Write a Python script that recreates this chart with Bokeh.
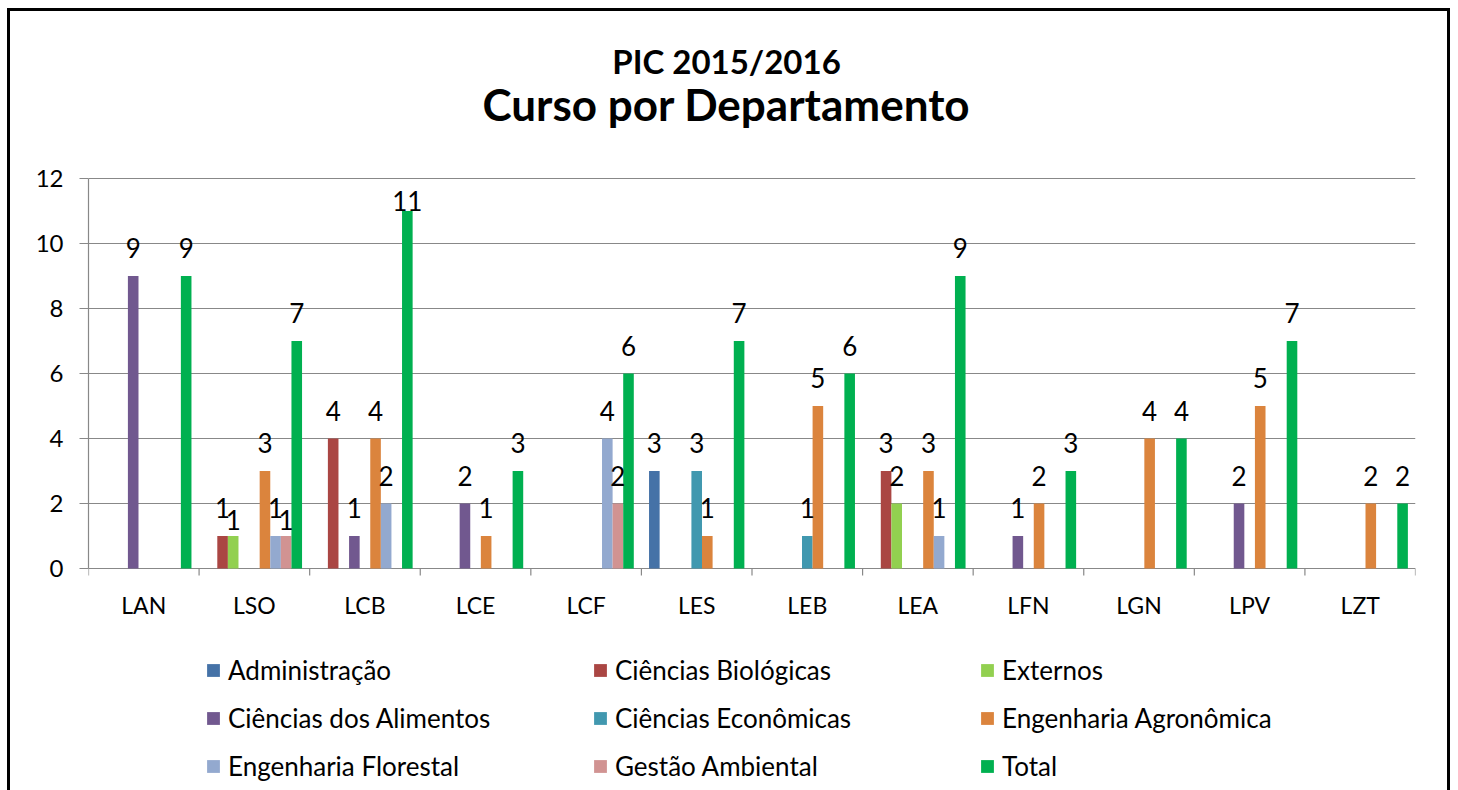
from bokeh.plotting import figure
from bokeh.models import (ColumnDataSource, FixedTicker, Legend, LegendItem, Label,
                          LabelSet, Range1d)
from bokeh.transform import dodge
from bokeh.core.properties import value
from bokeh.embed import file_html
from bokeh.resources import INLINE
import numpy as np

# ---------------- data ----------------
departments = ["LAN", "LSO", "LCB", "LCE", "LCF", "LES", "LEB", "LEA", "LFN", "LGN", "LPV", "LZT"]
series_names = ["Administração", "Ciências Biológicas", "Externos",
                "Ciências dos Alimentos", "Ciências Econômicas", "Engenharia Agronômica",
                "Engenharia Florestal", "Gestão Ambiental", "Total"]
administracao         = [0, 0, 0, 0, 0, 3, 0, 0, 0, 0, 0, 0]
ciencias_biologicas   = [0, 1, 4, 0, 0, 0, 0, 3, 0, 0, 0, 0]
externos              = [0, 1, 0, 0, 0, 0, 0, 2, 0, 0, 0, 0]
ciencias_alimentos    = [9, 0, 1, 2, 0, 0, 0, 0, 1, 0, 2, 0]
ciencias_economicas   = [0, 0, 0, 0, 0, 3, 1, 0, 0, 0, 0, 0]
engenharia_agronomica = [0, 3, 4, 1, 0, 1, 5, 3, 2, 4, 5, 2]
engenharia_florestal  = [0, 1, 2, 0, 4, 0, 0, 1, 0, 0, 0, 0]
gestao_ambiental      = [0, 1, 0, 0, 2, 0, 0, 0, 0, 0, 0, 0]
total                 = [9, 7, 11, 3, 6, 7, 6, 9, 3, 4, 7, 2]
y_ticks = [0, 2, 4, 6, 8, 10, 12]
title_line1 = "PIC 2015/2016"
title_line2 = "Curso por Departamento"

series_values = [administracao, ciencias_biologicas, externos, ciencias_alimentos,
                 ciencias_economicas, engenharia_agronomica, engenharia_florestal,
                 gestao_ambiental, total]
colors = ["#4572A7", "#AA4643", "#92D050", "#71588F", "#4198AF",
          "#DB843D", "#93A9CF", "#D19392", "#00B050"]

# ---------------- layout / style ----------------
FONT = "Lato"
GRAY = "#888888"
W, H = 1458, 790
LEFT, RIGHT = 88, 43              # side borders of the plotting frame
AXIS_TOP, AXIS_BOTTOM = 178, 568  # pixel rows of y=12 and y=0
Y_MAX = 12
PX = (AXIS_BOTTOM - AXIS_TOP) / Y_MAX   # pixels per unit
BAR_W = 0.0958                    # fraction of one category
LABEL_OFF = 28                    # px between bar top and label centre
LABEL_DROP = 12                   # px a colliding label is lowered

border_css = ("linear-gradient(#000,#000) 7px 8px / 3px 800px no-repeat, "
              "linear-gradient(#000,#000) 1447px 8px / 3px 800px no-repeat, "
              "linear-gradient(#000,#000) 7px 8px / 1443px 3px no-repeat, #fff")

# the frame spans the full height so that titles and legend can live inside it
y_lo = -(H - AXIS_BOTTOM) / PX
y_hi = Y_MAX + AXIS_TOP / PX

p = figure(width=W, height=H, output_backend="svg", toolbar_location=None, title=None,
           x_range=Range1d(0, len(departments)), y_range=Range1d(y_lo, y_hi),
           x_axis_location=None,
           min_border_left=LEFT, min_border_right=RIGHT, min_border_top=0, min_border_bottom=0,
           background_fill_color=None, border_fill_color=None)
p.styles = {"background": border_css}
p.outline_line_color = None
p.xgrid.visible = False
p.ygrid.ticker = FixedTicker(ticks=y_ticks)
p.ygrid.grid_line_color = GRAY
p.ygrid.grid_line_width = 1.2

# y axis
p.yaxis.ticker = FixedTicker(ticks=y_ticks)
p.yaxis.bounds = (0, Y_MAX)
p.yaxis.axis_line_color = GRAY
p.yaxis.axis_line_width = 1.2
p.yaxis.major_tick_line_color = GRAY
p.yaxis.major_tick_line_width = 1.2
p.yaxis.major_tick_out = 9
p.yaxis.major_tick_in = 0
p.yaxis.minor_tick_line_color = None
p.yaxis.major_label_standoff = 16
p.yaxis.major_label_text_font = FONT
p.yaxis.major_label_text_font_size = "24px"
p.yaxis.major_label_text_color = "black"

# x axis: category labels at centres, ticks at category boundaries
centres = [i + 0.5 for i in range(len(departments))]
bounds = list(range(len(departments) + 1))
p.segment(x0=bounds, y0=[0] * len(bounds), x1=bounds, y1=[-7 / PX] * len(bounds),
          line_color=GRAY, line_width=1.2)
cat_src = ColumnDataSource(dict(x=centres, y=[0] * len(centres), text=departments))
p.add_layout(LabelSet(x="x", y="y", text="text", source=cat_src, y_offset=-36,
                      text_align="center", text_baseline="middle",
                      text_font=value(FONT), text_font_size="23px", text_color="black"))

label_cap = Y_MAX - (LABEL_OFF + 22) / PX
all_vals = np.array(series_values)

items = []
for j, (name, vals, col) in enumerate(zip(series_names, series_values, colors)):
    vals = np.array(vals)
    idx = np.nonzero(vals)[0]
    # lower a label when the neighbouring bar on its left carries the same value
    prev = all_vals[j - 1] if j > 0 else np.zeros_like(vals)
    collide = (prev[idx] == vals[idx])
    src = ColumnDataSource(dict(
        x=[centres[i] for i in idx],
        top=vals[idx].tolist(),
        label=[str(v) for v in vals[idx]],
        label_y=np.minimum(vals[idx], label_cap).tolist(),
        label_off=np.where(collide, LABEL_OFF - LABEL_DROP, LABEL_OFF).tolist(),
    ))
    off = (j - (len(series_names) - 1) / 2) * BAR_W
    r = p.vbar(x=dodge("x", off), top="top", bottom=0, width=BAR_W, source=src,
               fill_color=col, line_color=None)
    items.append(LegendItem(label=name, renderers=[r]))
    p.add_layout(LabelSet(x=dodge("x", off), y="label_y", text="label", source=src,
                          y_offset="label_off", text_align="center", text_baseline="middle",
                          text_font=value(FONT), text_font_size="26px", text_color="black"))

legend = Legend(items=items, orientation="horizontal", ncols=3, location=(117, 8),
                glyph_width=16, glyph_height=16, label_standoff=7, spacing=16,
                label_width=348, padding=0, margin=0,
                label_text_font=FONT, label_text_font_size="26px", label_text_color="black",
                border_line_color=None, background_fill_alpha=0)
p.add_layout(legend, "center")

# titles, centred on the chart
cx = W / 2 - 3 - LEFT
p.add_layout(Label(x=cx, y=H - 60, x_units="screen", y_units="screen", text=title_line1,
                   text_align="center", text_baseline="middle", text_font=FONT,
                   text_font_size="33px", text_font_style="bold", text_color="black"))
p.add_layout(Label(x=cx, y=H - 103, x_units="screen", y_units="screen", text=title_line2,
                   text_align="center", text_baseline="middle", text_font=FONT,
                   text_font_size="44px", text_font_style="bold", text_color="black"))

open("out.html", "w").write(file_html(p, INLINE))
